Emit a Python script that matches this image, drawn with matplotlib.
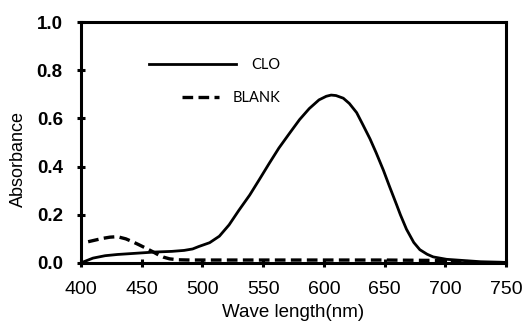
import matplotlib
matplotlib.use("Agg")
import matplotlib.pyplot as plt

# CLO absorbance spectrum
clo_nm = [400, 405, 410, 420, 430, 445, 460, 475, 485, 492, 497, 506, 514,
          522, 530, 539, 547, 555, 563, 572, 580, 588, 596, 602, 606, 610,
          616, 621, 627, 632, 638, 643, 649, 654, 660, 663, 668, 674, 679,
          685, 690, 701, 715, 729, 745, 750]
clo_abs = [0.0, 0.01, 0.02, 0.03, 0.035, 0.04, 0.045, 0.048, 0.052, 0.058,
           0.068, 0.084, 0.111, 0.158, 0.218, 0.282, 0.347, 0.413, 0.477,
           0.540, 0.595, 0.641, 0.677, 0.692, 0.697, 0.695, 0.684, 0.662,
           0.624, 0.575, 0.515, 0.458, 0.385, 0.318, 0.240, 0.200, 0.140,
           0.085, 0.055, 0.036, 0.025, 0.015, 0.010, 0.005, 0.003, 0.002]

# blank
blank_nm = [406, 412, 418, 424, 430, 437, 443, 448, 454, 459, 464, 468, 473,
            480, 490, 550, 650, 700, 710, 720]
blank_abs = [0.088, 0.095, 0.102, 0.107, 0.109, 0.100, 0.087, 0.075, 0.060,
             0.047, 0.033, 0.024, 0.017, 0.013, 0.012, 0.012, 0.012, 0.010,
             0.007, 0.005]

fig = plt.figure(figsize=(5.25, 3.25), dpi=100)
ax = fig.add_axes([0.154, 0.191, 0.81, 0.741])

l1, = ax.plot(clo_nm, clo_abs, color="black", lw=2.0)
l2, = ax.plot(blank_nm, blank_abs, color="black", lw=2.4,
              linestyle=(0, (3.2, 1.6)))

ax.set_xlim(400, 750)
ax.set_ylim(0, 1.0)
ax.set_xticks([400, 450, 500, 550, 600, 650, 700, 750])
ax.set_yticks([0.0, 0.2, 0.4, 0.6, 0.8, 1.0])
ax.set_yticklabels(["0.0", "0.2", "0.4", "0.6", "0.8", "1.0"])

for s in ax.spines.values():
    s.set_linewidth(2.2)
ax.tick_params(direction="inout", length=6, width=2.2)
ax.tick_params(axis="x", pad=10)
ax.tick_params(axis="y", pad=10)
for lab in ax.get_xticklabels():
    lab.set_fontfamily("Liberation Sans")
    lab.set_fontsize(14)
for lab in ax.get_yticklabels():
    lab.set_fontfamily("Liberation Sans")
    lab.set_fontsize(13.5)
    lab.set_fontweight("bold")

ax.set_xlabel("Wave length(nm)", fontfamily="Liberation Sans", fontsize=13.5,
              labelpad=4)
ax.set_ylabel("Absorbance", fontfamily="Liberation Sans", fontsize=13)
ax.yaxis.set_label_coords(-0.127, 0.43)

leg1 = ax.legend([l1], ["CLO"], loc="center left",
                 bbox_to_anchor=(0.16, 0.822), frameon=False,
                 handlelength=6.0, handletextpad=1.0, borderpad=0,
                 borderaxespad=0, prop={"family": "Lato", "size": 10.5})
ax.add_artist(leg1)
ax.legend([l2], ["BLANK"], loc="center left",
          bbox_to_anchor=(0.238, 0.685), frameon=False,
          handlelength=2.5, handletextpad=1.0, borderpad=0,
          borderaxespad=0, prop={"family": "Lato", "size": 10.5})

fig.savefig("out.png", dpi=100)
